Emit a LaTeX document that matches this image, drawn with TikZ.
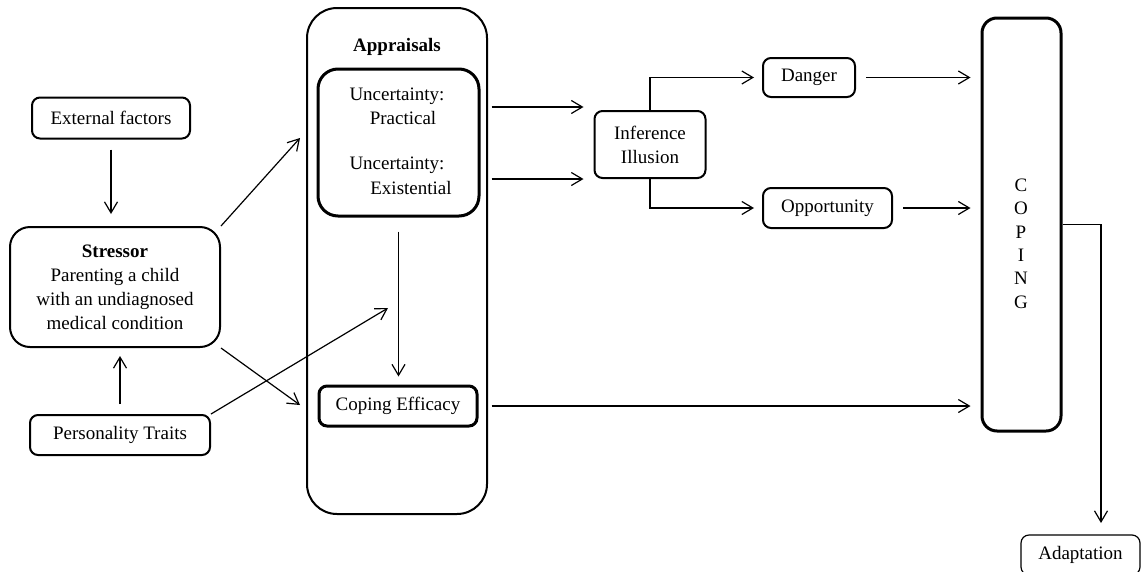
\documentclass[tikz,border=0pt]{standalone}
\usepackage{fontspec}
\setmainfont{Liberation Serif}
\usetikzlibrary{arrows.meta,positioning}

\tikzset{
  box/.style={draw, rounded corners=8pt, line width=2pt, align=center, inner sep=0pt},
  heavy/.style={box, line width=3pt},
  flow/.style={-{Straight Barb[length=11pt,width=13pt]}, line width=1.2pt},
}

\begin{document}
\begin{tikzpicture}[x=1pt, y=-1pt, font=\fontsize{19}{24}\selectfont]

\useasboundingbox (0,0) rectangle (1143,571);

% left column
\node[box, minimum width=158pt, minimum height=41pt] (ext) at (111,118) {External factors};
\node[box, rounded corners=20pt, minimum width=210pt, minimum height=120pt] (stress) at (115,287)
  {\textbf{Stressor}\\Parenting a child\\with an undiagnosed\\medical condition};
\node[box, minimum width=180pt, minimum height=40pt] (pers) at (120,435) {Personality Traits};

% appraisals
\node[box, rounded corners=30pt, minimum width=180pt, minimum height=506pt] (appr) at (397,261) {};
\node[font=\fontsize{19}{24}\selectfont\bfseries] (apprtitle) at (397,47) {Appraisals};
\node[heavy, rounded corners=20pt, minimum width=161pt, minimum height=147pt] (unc) at (398.5,142.5) {};
\node (uncp) at (397,96) {Uncertainty:};
\node (prac) at (403,118) {Practical};
\node (unce) at (397,165) {Uncertainty:};
\node (exis) at (411,188) {Existential};
\node[heavy, minimum width=158pt, minimum height=40pt] (eff) at (398,406) {Coping Efficacy};

\coordinate (apprin1) at (300,138);
\coordinate (apprin2) at (300,405);
\coordinate (apprin3) at (388,308);

% inference
\node[box, minimum width=111pt, minimum height=67pt] (inf) at (650,144.5) {Inference\\Illusion};
\node[box, minimum width=92pt, minimum height=39pt] (dang) at (809,77.5) {Danger};
\node[box, minimum width=129pt, minimum height=40pt] (opp) at (827.5,208) {Opportunity};

% coping
\node[heavy, rounded corners=15pt, minimum width=79pt, minimum height=413pt] (cop) at (1021.5,224.5) {};
\foreach \l [count=\i] in {C,O,P,I,N,G}
  \node (cop\i) at (1021,{185+23.4*(\i-1)}) {\l};

\node[box, line width=1.2pt, minimum width=119pt, minimum height=40pt] (adapt) at (1080.5,555) {Adaptation};
\coordinate (adin) at (1101,535);

% arrows
\draw[flow, shorten <=10pt, shorten >=12pt] (ext.south) -- (ext.south |- stress.north);
\draw[flow, shorten <=10pt, shorten >=8pt] (pers.north) -- (pers.north |- stress.south);
\draw[flow] (stress.north east) -- (apprin1);
\draw[flow] (stress.south east) -- (apprin2);
\draw[flow] (pers.north east) -- (apprin3);
\draw[flow, shorten <=14pt, shorten >=8pt] (unc.south) -- (unc.south |- eff.north);

\draw[flow, shorten <=11pt, shorten >=10pt] ([yshift=3pt]unc.east |- inf.north) -- ([yshift=3pt]inf.north west);
\draw[flow, shorten <=11pt, shorten >=10pt] (unc.east |- inf.south) -- (inf.south west);
\draw[flow, shorten >=8pt] (inf.north) |- (dang.west);
\draw[flow, shorten >=8pt] (inf.south) |- (opp.west);

\draw[flow, shorten <=10pt, shorten >=10pt] (dang.east) -- (dang.east -| cop.west);
\draw[flow, shorten <=10pt, shorten >=10pt] (opp.east) -- (opp.east -| cop.west);
\draw[flow, shorten <=13pt, shorten >=10pt] (eff.east) -- (eff.east -| cop.west);
\draw[flow, shorten >=12pt] (cop.east) -| (adin);

\end{tikzpicture}
\end{document}
